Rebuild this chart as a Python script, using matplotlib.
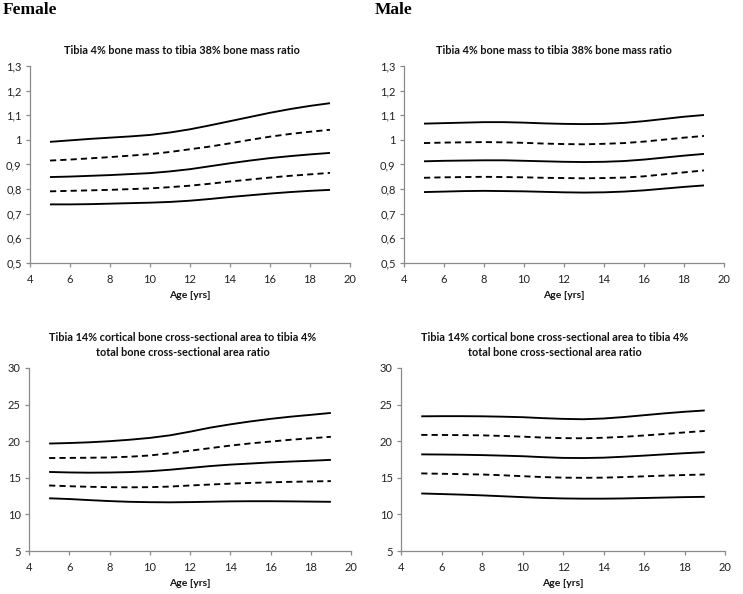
import matplotlib
matplotlib.use("Agg")
import matplotlib.pyplot as plt
from matplotlib.ticker import FuncFormatter

ages = [5, 6, 7, 8, 9, 10, 11, 12, 13, 14, 15, 16, 17, 18, 19]

# Female, ratio of tibia 4% to 38% bone mass
f_mass_p97 = [0.992, 0.998, 1.004, 1.009, 1.014, 1.020, 1.030, 1.043, 1.059, 1.076, 1.093, 1.110, 1.125, 1.138, 1.149]
f_mass_p84 = [0.916, 0.920, 0.925, 0.930, 0.936, 0.942, 0.951, 0.962, 0.973, 0.986, 1.000, 1.013, 1.024, 1.033, 1.041]
f_mass_p50 = [0.849, 0.851, 0.854, 0.857, 0.861, 0.865, 0.872, 0.881, 0.893, 0.905, 0.916, 0.926, 0.934, 0.941, 0.947]
f_mass_p16 = [0.791, 0.793, 0.795, 0.797, 0.800, 0.803, 0.808, 0.814, 0.822, 0.831, 0.839, 0.847, 0.854, 0.860, 0.866]
f_mass_p3 = [0.738, 0.738, 0.739, 0.741, 0.743, 0.745, 0.748, 0.753, 0.760, 0.768, 0.775, 0.782, 0.788, 0.793, 0.797]

# Male, ratio of tibia 4% to 38% bone mass
m_mass_p97 = [1.066, 1.068, 1.070, 1.072, 1.072, 1.070, 1.067, 1.065, 1.064, 1.065, 1.069, 1.076, 1.085, 1.094, 1.101]
m_mass_p84 = [0.987, 0.989, 0.990, 0.991, 0.990, 0.988, 0.985, 0.983, 0.982, 0.984, 0.987, 0.993, 1.001, 1.009, 1.016]
m_mass_p50 = [0.913, 0.915, 0.916, 0.917, 0.917, 0.915, 0.913, 0.911, 0.910, 0.911, 0.914, 0.920, 0.928, 0.936, 0.943]
m_mass_p16 = [0.846, 0.848, 0.849, 0.850, 0.849, 0.848, 0.846, 0.845, 0.844, 0.845, 0.847, 0.852, 0.860, 0.868, 0.876]
m_mass_p3 = [0.788, 0.790, 0.792, 0.793, 0.792, 0.791, 0.789, 0.787, 0.786, 0.787, 0.790, 0.795, 0.802, 0.809, 0.815]

# Female, cortical 14% CSA to total 4% CSA ratio
f_csa_p97 = [19.68, 19.75, 19.85, 20.0, 20.2, 20.45, 20.8, 21.3, 21.85, 22.3, 22.7, 23.05, 23.35, 23.6, 23.86]
f_csa_p84 = [17.7, 17.72, 17.74, 17.78, 17.88, 18.05, 18.35, 18.7, 19.05, 19.4, 19.7, 19.95, 20.2, 20.4, 20.6]
f_csa_p50 = [15.8, 15.73, 15.7, 15.72, 15.78, 15.9, 16.1, 16.35, 16.6, 16.8, 16.95, 17.1, 17.22, 17.33, 17.45]
f_csa_p16 = [13.95, 13.85, 13.77, 13.72, 13.7, 13.72, 13.8, 13.95, 14.08, 14.2, 14.3, 14.38, 14.45, 14.5, 14.55]
f_csa_p3 = [12.2, 12.1, 11.95, 11.82, 11.72, 11.67, 11.65, 11.68, 11.73, 11.78, 11.8, 11.8, 11.78, 11.75, 11.72]

# Male, cortical 14% CSA to total 4% CSA ratio
m_csa_p97 = [23.4, 23.42, 23.42, 23.4, 23.35, 23.28, 23.15, 23.05, 23.0, 23.1, 23.3, 23.55, 23.8, 24.02, 24.2]
m_csa_p84 = [20.86, 20.85, 20.83, 20.8, 20.72, 20.62, 20.5, 20.42, 20.4, 20.47, 20.6, 20.78, 20.98, 21.2, 21.4]
m_csa_p50 = [18.2, 18.18, 18.15, 18.1, 18.03, 17.95, 17.82, 17.72, 17.7, 17.75, 17.88, 18.03, 18.2, 18.36, 18.5]
m_csa_p16 = [15.6, 15.55, 15.5, 15.45, 15.35, 15.22, 15.1, 15.02, 15.0, 15.02, 15.1, 15.2, 15.3, 15.38, 15.45]
m_csa_p3 = [12.86, 12.78, 12.7, 12.6, 12.48, 12.36, 12.25, 12.18, 12.15, 12.15, 12.18, 12.24, 12.3, 12.36, 12.4]

title_mass = "Tibia 4% bone mass to tibia 38% bone mass ratio"
title_csa = "Tibia 14% cortical bone cross-sectional area to tibia 4%\ntotal bone cross-sectional area ratio"
xlabel = "Age [yrs]"
sex_labels = ["Female", "Male"]

x_ticks = [4, 6, 8, 10, 12, 14, 16, 18, 20]
mass_ticks = [0.5, 0.6, 0.7, 0.8, 0.9, 1.0, 1.1, 1.2, 1.3]
csa_ticks = [5, 10, 15, 20, 25, 30]

W, H = 743, 594
fig = plt.figure(figsize=(W / 100, H / 100), dpi=100)
fig.patch.set_facecolor("white")

FONT = "Lato"

def comma_fmt(v, pos):
    s = ("%.1f" % v).rstrip("0").rstrip(".")
    return s.replace(".", ",")

def make_ax(left_px, right_px, top_px, bottom_px):
    return fig.add_axes([left_px / W, 1 - bottom_px / H,
                         (right_px - left_px) / W, (bottom_px - top_px) / H])

def style(ax, yticks, ylim, fmt):
    ax.set_xlim(4, 20)
    ax.set_ylim(*ylim)
    ax.set_xticks(x_ticks)
    ax.set_yticks(yticks)
    ax.yaxis.set_major_formatter(FuncFormatter(fmt))
    for s in ["top", "right"]:
        ax.spines[s].set_visible(False)
    for s in ["left", "bottom"]:
        ax.spines[s].set_color("#8a8a8a")
        ax.spines[s].set_linewidth(0.9)
    ax.tick_params(axis="both", direction="out", length=3, width=0.9,
                   color="#8a8a8a", labelsize=8, labelcolor="#222222")
    ax.tick_params(axis="y", pad=3)
    ax.tick_params(axis="x", pad=5)
    for lab in ax.get_xticklabels() + ax.get_yticklabels():
        lab.set_family(FONT)
    ax.set_xlabel(xlabel, fontsize=7.5, fontweight="bold", family=FONT,
                  labelpad=4, color="#111111")

def draw(ax, series):
    for i, vals in enumerate(series):
        ls = (0, (3.3, 2.2)) if i in (1, 3) else "-"
        ax.plot(ages, vals, color="black", lw=1.35, ls=ls,
                solid_capstyle="butt", dash_capstyle="butt")

ax1 = make_ax(30, 350, 66, 263)
draw(ax1, [f_mass_p97, f_mass_p84, f_mass_p50, f_mass_p16, f_mass_p3])
style(ax1, mass_ticks, (0.5, 1.3), comma_fmt)

ax2 = make_ax(404, 724, 66, 263)
draw(ax2, [m_mass_p97, m_mass_p84, m_mass_p50, m_mass_p16, m_mass_p3])
style(ax2, mass_ticks, (0.5, 1.3), comma_fmt)

int_fmt = lambda v, pos: "%d" % v
ax3 = make_ax(29, 351, 368, 551)
draw(ax3, [f_csa_p97, f_csa_p84, f_csa_p50, f_csa_p16, f_csa_p3])
style(ax3, csa_ticks, (5, 30), int_fmt)

ax4 = make_ax(401, 725, 368, 551)
draw(ax4, [m_csa_p97, m_csa_p84, m_csa_p50, m_csa_p16, m_csa_p3])
style(ax4, csa_ticks, (5, 30), int_fmt)

# panel titles
for xc in (182, 554):
    fig.text(xc / W, 1 - 50 / H, title_mass, ha="center", va="center",
             fontsize=7.8, fontweight="bold", family=FONT, color="#111111")
for xc in (183, 555):
    fig.text(xc / W, 1 - 345 / H, title_csa, ha="center", va="center",
             fontsize=7.8, fontweight="bold", family=FONT, color="#111111",
             linespacing=1.35)

# sex headings
fig.text(3 / W, 1 - 10 / H, sex_labels[0], ha="left", va="center",
         fontsize=12.5, fontweight="bold", family="Liberation Serif")
fig.text(375 / W, 1 - 10 / H, sex_labels[1], ha="left", va="center",
         fontsize=12.5, fontweight="bold", family="Liberation Serif")

fig.savefig("out.png", dpi=100, facecolor="white")
